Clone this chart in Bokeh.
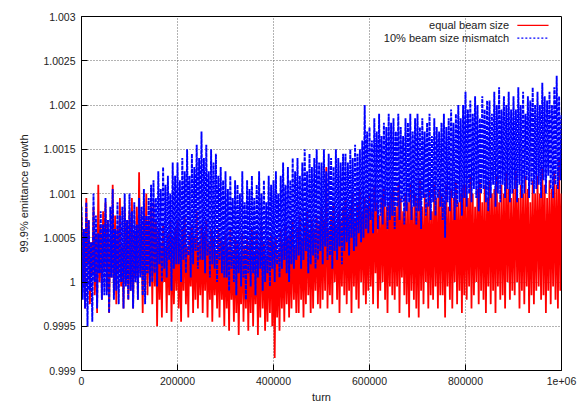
import numpy as np
from bokeh.plotting import figure
from bokeh.models import FixedTicker, Label, Range1d
from bokeh.embed import file_html
from bokeh.resources import INLINE

# ---- data ----
# sampling step along "turn"
turn_step = 2500
# emittance growth minus 1, in units of 1e-5 (20 samples = 50000 turns per row)
equal_beam_size = [
    75, -5, 60, -30, 95, 20, 70, -25, 45, 10, 85, -15, 55, -35, 110, 0, 65, -20, 80, 15,
    90, -10, 70, -35, 50, 5, 110, -15, 75, -25, 60, 10, 95, -5, 40, -30, 85, 0, 70, -20,
    80, -10, 95, -30, 55, 5, 85, -20, 124, 10, 65, -35, 90, -5, 100, -15, 70, 0, 85, -25,
    90, -5, 70, -50, 60, -20, 45, -40, 65, 0, 40, -35, 55, -15, 70, -45, 50, -25, 60, -10,
    70, -30, 45, -45, 60, -10, 75, -25, 40, -40, 55, -5, 65, -35, 50, -20, 80, -30, 45, -15,
    65, -35, 55, -10, 70, -40, 45, -20, 60, -45, 50, -15, 35, -30, 60, -40, 50, -20, 45, -50,
    55, -30, 40, -55, 60, -20, 35, -45, 50, -35, 45, -60, 30, -25, 55, -45, 40, -30, 50, -55,
    45, -35, 60, -50, 35, -25, 55, -60, 40, -40, 65, -30, 45, -55, 30, -45, 50, -35, 55, -50,
    45, -86, 50, -40, 35, -55, 60, -30, 45, -45, 65, -25, 50, -40, 55, -30, 70, -20, 40, -35,
    60, -35, 75, -20, 50, -40, 65, -25, 80, -15, 55, -35, 70, -30, 60, -10, 75, -25, 65, -30,
    85, -20, 70, -10, 130, -30, 60, -15, 75, -25, 90, 0, 65, -20, 80, -35, 70, -5, 85, -15,
    95, -25, 75, -10, 85, -35, 100, -5, 70, -20, 90, -30, 105, 0, 80, -15, 95, -25, 85, -10,
    100, -5, 80, -25, 110, 10, 90, -30, 75, -10, 95, 0, 105, -20, 85, -35, 90, -5, 100, -15,
    105, -20, 85, -5, 110, -35, 95, 5, 80, -15, 100, -25, 90, -40, 110, -10, 85, -20, 100, -30,
    95, -40, 115, -10, 85, -25, 100, 0, 90, -30, 105, -15, 80, -20, 110, -5, 95, -30, 105, -15,
    100, -15, 90, -40, 110, -5, 85, -20, 105, -30, 95, 0, 115, -25, 90, -10, 100, -35, 110, -15,
    110, -20, 95, -5, 120, -30, 100, -15, 85, 0, 105, -25, 115, -10, 90, -20, 110, -35, 95, -5,
    115, -25, 100, -10, 105, -35, 120, -5, 90, -20, 110, -15, 100, -30, 125, 0, 105, -20, 95, -10,
    105, -15, 125, 0, 95, -30, 110, -10, 100, -25, 120, -5, 105, -35, 90, -15, 115, -25, 100, -10,
    120, -5, 100, -20, 130, -15, 110, -35, 95, -10, 115, -25, 105, -5, 125, -20, 110, -30, 140, -10,
    100,
]
mismatch_10pct = [
    85, -20, 60, -30, 90, -50, 70, -10, 45, -45, 100, 0, 75, -30, 55, 10, 80, -20, 65, -15,
    95, -15, 70, -35, 85, 5, 105, -20, 60, -10, 90, -25, 75, 0, 85, -30, 100, -5, 70, -20,
    100, -10, 80, -30, 90, 0, 65, -20, 95, 5, 85, -15, 105, -25, 75, 10, 95, -5, 110, 0,
    115, 10, 95, -5, 125, 20, 105, 0, 130, 15, 110, 5, 120, 25, 100, -10, 135, 15, 120, 20,
    135, 20, 115, 0, 140, 25, 125, 10, 150, 30, 120, 5, 145, 20, 130, 35, 155, 15, 140, 25,
    170, 25, 140, 10, 155, 30, 125, 5, 150, 20, 135, 15, 145, 0, 120, 25, 130, 10, 115, 5,
    125, 5, 105, -10, 120, 15, 95, 0, 115, -15, 110, 10, 100, -5, 125, 5, 90, -20, 115, 10,
    105, -5, 120, 10, 95, -15, 110, 5, 125, 15, 100, -10, 115, 0, 90, 10, 120, -5, 110, 15,
    115, 0, 125, 20, 100, 5, 120, 15, 135, 25, 110, 10, 130, 0, 115, 20, 140, 15, 125, 25,
    140, 30, 120, 15, 135, 25, 150, 35, 125, 10, 145, 20, 130, 30, 140, 15, 150, 25, 135, 35,
    135, 20, 150, 40, 125, 25, 145, 30, 140, 15, 130, 35, 150, 25, 140, 40, 135, 20, 145, 35,
    145, 45, 135, 30, 150, 50, 140, 35, 155, 40, 145, 55, 150, 45, 160, 50, 200, 60, 170, 55,
    175, 70, 160, 55, 185, 80, 170, 60, 190, 75, 165, 65, 180, 85, 175, 60, 190, 70, 180, 75,
    185, 60, 170, 85, 190, 70, 175, 90, 165, 65, 185, 80, 180, 90, 190, 70, 170, 85, 185, 65,
    190, 80, 175, 60, 185, 95, 170, 75, 180, 85, 190, 70, 165, 90, 185, 75, 175, 95, 170, 85,
    180, 70, 190, 50, 175, 90, 185, 80, 195, 95, 180, 70, 190, 85, 200, 90, 185, 75, 200, 95,
    215, 85, 195, 100, 205, 90, 190, 105, 210, 95, 200, 80, 185, 100, 210, 105, 195, 90, 205, 80,
    205, 95, 190, 110, 215, 85, 200, 100, 220, 90, 195, 110, 210, 95, 200, 105, 215, 90, 195, 100,
    210, 105, 195, 90, 220, 110, 200, 95, 215, 100, 190, 115, 210, 95, 205, 110, 220, 100, 200, 105,
    215, 110, 200, 95, 225, 115, 210, 100, 205, 120, 215, 105, 200, 95, 220, 110, 233, 105, 210, 115,
    190,
]
series_names = ["equal beam size", "10% beam size mismatch"]
x_ticks = [0, 200000, 400000, 600000, 800000, 1000000]
x_tick_labels = ["0", "200000", "400000", "600000", "800000", "1e+06"]
y_ticks = [0.999, 0.9995, 1.0, 1.0005, 1.001, 1.0015, 1.002, 1.0025, 1.003]
y_tick_labels = ["0.999", "0.9995", "1", "1.0005", "1.001", "1.0015", "1.002", "1.0025", "1.003"]

turns_eq = np.arange(len(equal_beam_size)) * turn_step
turns_mm = np.arange(len(mismatch_10pct)) * turn_step
vals_eq = 1.0 + np.array(equal_beam_size) * 1e-5
vals_mm = 1.0 + np.array(mismatch_10pct) * 1e-5

FONT = "Liberation Sans"

p = figure(width=578, height=405, output_backend="svg", toolbar_location=None,
           x_range=Range1d(0, 1000000), y_range=Range1d(0.999, 1.003),
           min_border_left=81, min_border_right=17, min_border_top=16, min_border_bottom=32)
p.background_fill_color = "white"
p.border_fill_color = "white"
p.outline_line_color = "black"
p.outline_line_width = 1

for g in (p.xgrid, p.ygrid):
    g.grid_line_color = "#666666"
    g.grid_line_dash = "1 2"
    g.grid_line_width = 1
p.xgrid.ticker = FixedTicker(ticks=x_ticks)
p.ygrid.ticker = FixedTicker(ticks=y_ticks)

p.xaxis.ticker = FixedTicker(ticks=x_ticks)
p.yaxis.ticker = FixedTicker(ticks=y_ticks)
p.xaxis.major_label_overrides = {t: l for t, l in zip(x_ticks, x_tick_labels)}
p.yaxis.major_label_overrides = {t: l for t, l in zip(y_ticks, y_tick_labels)}
for ax in (p.xaxis, p.yaxis):
    ax.axis_line_color = "black"
    ax.major_tick_in = 6
    ax.major_tick_out = 0
    ax.minor_tick_in = 0
    ax.minor_tick_out = 0
    ax.major_label_text_font = FONT
    ax.major_label_text_font_size = "10.5px"
    ax.major_label_text_color = "#222222"
    ax.axis_label_text_font = FONT
    ax.axis_label_text_font_size = "11px"
    ax.axis_label_text_font_style = "normal"
    ax.axis_label_text_color = "#222222"
p.xaxis.axis_label = "turn"
p.yaxis.axis_label = "99.9% emittance growth"
p.xaxis.major_label_standoff = 6
p.xaxis.axis_label_standoff = 3
p.yaxis.major_label_standoff = 6
p.yaxis.axis_label_standoff = 10

p.line(turns_eq, vals_eq, line_color="#ff0000", line_width=1.8)
p.line(turns_mm, vals_mm, line_color="#0000ff", line_width=1.9, line_dash="4 1")

# key (gnuplot style: text right-aligned, sample on the right)
key_y = [1.0029, 1.002755]
key_colors = ["#ff0000", "#0000ff"]
key_dash = ["solid", "2 2"]
for name, ky, kc, kd in zip(series_names, key_y, key_colors, key_dash):
    p.add_layout(Label(x=891000, y=ky, text=name, text_align="right", text_baseline="middle",
                       text_font=FONT, text_font_size="11px", text_color="#222222"))
    p.segment(x0=[908000], y0=[ky], x1=[973000], y1=[ky], line_color=kc, line_width=1.2, line_dash=kd)

open("out.html", "w").write(file_html(p, INLINE))
